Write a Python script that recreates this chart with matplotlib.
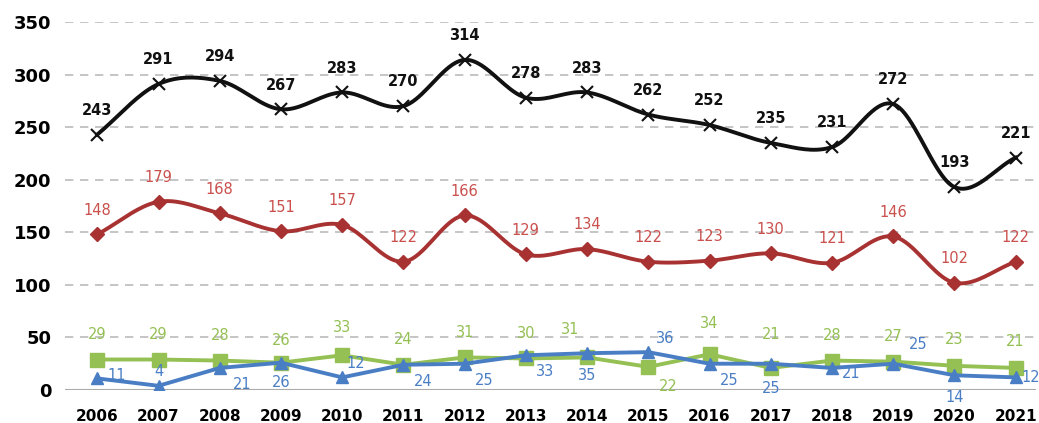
import numpy as np
import matplotlib.pyplot as plt

years = list(range(2006, 2022))
black_vals = [243, 291, 294, 267, 283, 270, 314, 278, 283, 262, 252, 235, 231, 272, 193, 221]
red_vals = [148, 179, 168, 151, 157, 122, 166, 129, 134, 122, 123, 130, 121, 146, 102, 122]
green_vals = [29, 29, 28, 26, 33, 24, 31, 30, 31, 22, 34, 21, 28, 27, 23, 21]
blue_vals = [11, 4, 21, 26, 12, 24, 25, 33, 35, 36, 25, 25, 21, 25, 14, 12]

# label offsets (points)
blue_offsets = [(14, 2), (0, 10), (16, -12), (0, -14), (10, 10), (14, -12), (14, -12), (14, -12),
                (0, -16), (12, 10), (14, -12), (0, -18), (14, -4), (18, 14), (0, -16), (4, 0)]
green_offsets = [(0, 18), (0, 18), (0, 18), (0, 16), (0, 20), (0, 18), (0, 18), (0, 18),
                 (-12, 20), (14, -14), (0, 22), (0, 24), (0, 18), (0, 18), (0, 19), (0, 19)]


def smooth(x, y, n=20):
    # catmull-rom through the points
    x = np.asarray(x, float)
    y = np.asarray(y, float)
    px = np.concatenate([[2 * x[0] - x[1]], x, [2 * x[-1] - x[-2]]])
    py = np.concatenate([[2 * y[0] - y[1]], y, [2 * y[-1] - y[-2]]])
    xs, ys = [], []
    for i in range(1, len(px) - 2):
        t = np.linspace(0, 1, n, endpoint=False)
        for p, out in ((px, xs), (py, ys)):
            p0, p1, p2, p3 = p[i - 1], p[i], p[i + 1], p[i + 2]
            out.extend(0.5 * (2 * p1 + (-p0 + p2) * t + (2 * p0 - 5 * p1 + 4 * p2 - p3) * t ** 2
                              + (-p0 + 3 * p1 - 3 * p2 + p3) * t ** 3))
    xs.append(x[-1])
    ys.append(y[-1])
    return xs, ys


fig = plt.figure(figsize=(10.39, 4.23), dpi=100)
ax = fig.add_axes([0.063, 0.078, 0.934, 0.87])

for v in range(50, 351, 50):
    ax.axhline(v, color='#bbbbbb', lw=1.2, ls=(0, (5, 4)), zorder=0)
ax.axhline(0, color='#aaaaaa', lw=1.5, zorder=0)

black = '#111111'
red_line = '#A83232'
red_txt = '#C9504D'
green = '#94C054'
blue = '#4A7EC4'

sx, sy = smooth(years, black_vals)
ax.plot(sx, sy, color=black, lw=2.8, zorder=3)
ax.plot(years, black_vals, ls='none', marker='x', ms=9, mew=1.5, color=black, zorder=4)

sx, sy = smooth(years, red_vals)
ax.plot(sx, sy, color=red_line, lw=2.8, zorder=3)
ax.plot(years, red_vals, ls='none', marker='D', ms=7, color=red_line, zorder=4)

ax.plot(years, green_vals, color=green, lw=2.8, marker='s', ms=10, zorder=3)
ax.plot(years, blue_vals, color=blue, lw=2.8, marker='^', ms=9, zorder=4)

for x, v in zip(years, black_vals):
    ax.annotate(str(v), (x, v), xytext=(0, 12), textcoords='offset points', ha='center',
                va='bottom', fontsize=10.5, fontweight='bold', color=black)
for x, v in zip(years, red_vals):
    ax.annotate(str(v), (x, v), xytext=(0, 12), textcoords='offset points', ha='center',
                va='bottom', fontsize=10.5, color=red_txt)
for x, v, off in zip(years, green_vals, green_offsets):
    ax.annotate(str(v), (x, v), xytext=off, textcoords='offset points', ha='center',
                va='center', fontsize=10.5, color=green)
for i, (x, v, off) in enumerate(zip(years, blue_vals, blue_offsets)):
    ax.annotate(str(v), (x, v), xytext=off, textcoords='offset points',
                ha='left' if i == len(years) - 1 else 'center',
                va='center', fontsize=10.5, color=blue)

ax.set_xlim(2005.48, 2021.33)
ax.set_ylim(0, 350)
ax.set_xticks(years)
ax.set_xticklabels([str(y) for y in years], fontsize=11, fontweight='bold')
ax.set_yticks(range(0, 351, 50))
ax.set_yticklabels([str(v) for v in range(0, 351, 50)], fontsize=13, fontweight='bold')
ax.tick_params(length=0, pad=10)
ax.tick_params(axis='x', pad=14)
for s in ax.spines.values():
    s.set_visible(False)

fig.savefig('out.png', dpi=100)
